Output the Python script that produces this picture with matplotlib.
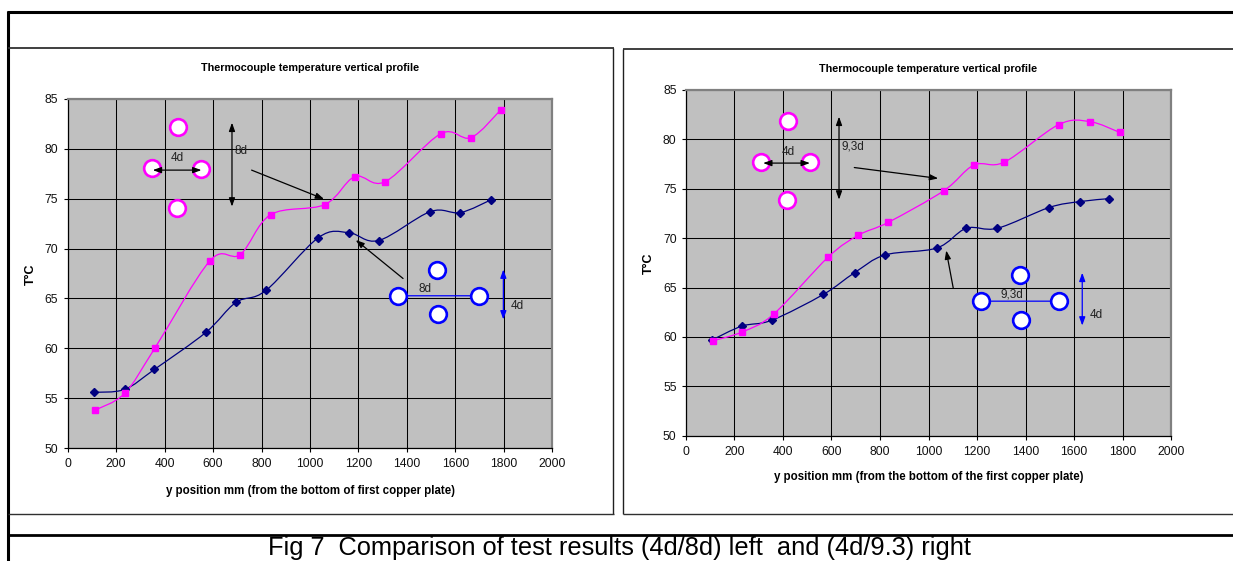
import numpy as np
import matplotlib
matplotlib.use("Agg")
import matplotlib.pyplot as plt
from matplotlib.path import Path
from matplotlib.patches import PathPatch
from matplotlib.lines import Line2D

plt.rcParams['font.family'] = ['Liberation Sans', 'DejaVu Sans']

# ---------------- data ----------------
x_ticks = [0, 200, 400, 600, 800, 1000, 1200, 1400, 1600, 1800, 2000]
y_ticks = [50, 55, 60, 65, 70, 75, 80, 85]

left_x_mag = [111, 235, 359, 588, 712, 838, 1061, 1185, 1311, 1540, 1664, 1788]
left_y_mag = [53.8, 55.5, 60.0, 68.8, 69.4, 73.4, 74.4, 77.2, 76.7, 81.5, 81.1, 83.9]
left_x_blue = [108, 235, 358, 570, 694, 818, 1035, 1159, 1283, 1497, 1621, 1749]
left_y_blue = [55.6, 55.9, 57.9, 61.6, 64.6, 65.8, 71.1, 71.6, 70.8, 73.7, 73.6, 74.9]

right_x_mag = [110, 231, 361, 587, 711, 834, 1063, 1187, 1313, 1537, 1665, 1789]
right_y_mag = [59.6, 60.5, 62.3, 68.1, 70.3, 71.6, 74.8, 77.4, 77.7, 81.5, 81.8, 80.7]
right_x_blue = [108, 231, 355, 566, 695, 821, 1034, 1156, 1284, 1497, 1623, 1744]
right_y_blue = [59.7, 61.1, 61.7, 64.3, 66.5, 68.3, 69.0, 71.0, 71.0, 73.1, 73.7, 74.0]

title_text = "Thermocouple temperature vertical profile"
ylabel_text = "T°C"
left_xlabel = "y position mm (from the bottom of first copper plate)"
right_xlabel = "y position mm (from the bottom of the first copper plate)"
caption = "Fig 7  Comparison of test results (4d/8d) left  and (4d/9.3) right"
left_gap_labels = ["4d", "8d"]
right_gap_labels = ["4d", "9,3d"]

MAG = '#FF00FF'
NAVY = '#000080'
BLUE = '#0000FF'

W, H = 1233, 561
fig = plt.figure(figsize=(W / 100, H / 100), dpi=100)
fig.patch.set_facecolor('white')


def fx(x):
    return x / W


def fy(y):
    return 1 - y / H


def hline(y, x0, x1, lw=1.0, color='black'):
    fig.add_artist(Line2D([fx(x0), fx(x1)], [fy(y), fy(y)], lw=lw, color=color,
                          transform=fig.transFigure, solid_capstyle='butt'))


def vline(x, y0, y1, lw=1.0, color='black'):
    fig.add_artist(Line2D([fx(x), fx(x)], [fy(y0), fy(y1)], lw=lw, color=color,
                          transform=fig.transFigure, solid_capstyle='butt'))


# frame lines
hline(12, 6.5, W, lw=2.2)
vline(8, 10.5, H, lw=2.2)
hline(48, 8, 613.5, lw=1.3, color='#303030')
vline(613, 48, 514, lw=1.0, color='#202020')
hline(514, 8, 613.5, lw=1.0, color='#303030')
hline(49, 623, W, lw=1.3, color='#303030')
vline(623, 49, 514, lw=1.0, color='#202020')
hline(514, 623, W, lw=1.0, color='#303030')
hline(535, 8, W, lw=2.0)

fig.text(fx(620), fy(554.5), caption, ha='center', va='baseline', fontsize=18.3,
         color='black')


def smooth_path(x, y):
    pts = np.column_stack([x, y]).astype(float)
    n = len(pts)
    verts = [pts[0]]
    codes = [Path.MOVETO]
    for i in range(n - 1):
        p0 = pts[i - 1] if i > 0 else pts[i]
        p1 = pts[i]
        p2 = pts[i + 1]
        p3 = pts[i + 2] if i + 2 < n else pts[i + 1]
        c1 = p1 + (p2 - p0) / 6.0
        c2 = p2 - (p3 - p1) / 6.0
        verts += [c1, c2, p2]
        codes += [Path.CURVE4] * 3
    return Path(verts, codes)


def make_axes(rect):
    ax = fig.add_axes(rect)
    ax.set_facecolor('#C0C0C0')
    ax.set_xlim(0, 2000)
    ax.set_ylim(50, 85)
    ax.set_xticks(x_ticks)
    ax.set_yticks(y_ticks)
    ax.grid(True, color='black', lw=0.75)
    ax.set_axisbelow(True)
    for s in ['top', 'right']:
        ax.spines[s].set_color('#808080')
        ax.spines[s].set_linewidth(1.6)
    for s in ['left', 'bottom']:
        ax.spines[s].set_color('black')
        ax.spines[s].set_linewidth(0.9)
    ax.tick_params(axis='both', direction='out', length=2.6, width=0.8,
                   labelsize=8.7, color='black', labelcolor='#111111')
    ax.tick_params(axis='x', pad=4.5)
    ax.tick_params(axis='y', pad=4.2)
    return ax


def draw_series(ax, x, y, color, marker, ms):
    ax.add_patch(PathPatch(smooth_path(x, y), fill=False, edgecolor=color,
                           lw=0.9, zorder=3))
    ax.plot(x, y, linestyle='none', marker=marker, color=color, ms=ms,
            mec=color, zorder=4)


def circles(ax, xs, ys, color):
    ax.plot(xs, ys, linestyle='none', marker='o', ms=12, mfc='white',
            mec=color, mew=1.9, zorder=5)


def darrow(ax, p0, p1, color, zorder=6):
    ax.annotate('', xy=p1, xytext=p0,
                arrowprops=dict(arrowstyle='<|-|>,head_length=0.5,head_width=0.18',
                                color=color, lw=0.9, shrinkA=0, shrinkB=0),
                zorder=zorder)


def sarrow(ax, p0, p1, color='black'):
    ax.annotate('', xy=p1, xytext=p0,
                arrowprops=dict(arrowstyle='-|>,head_length=0.5,head_width=0.18',
                                color=color, lw=0.9, shrinkA=0, shrinkB=0),
                zorder=6)


# ---------------- left chart ----------------
axL = make_axes([fx(67.7), fy(448.3), (552.3 - 67.7) / W, (448.3 - 98.7) / H])
draw_series(axL, left_x_blue, left_y_blue, NAVY, 'D', 3.6)
draw_series(axL, left_x_mag, left_y_mag, MAG, 's', 4.8)

circles(axL, [455, 346, 552, 451], [82.2, 78.05, 78.0, 74.1], MAG)
darrow(axL, (351, 77.85), (552, 77.85), 'black')
axL.text(452, 79.1, left_gap_labels[0], ha='center', va='center', fontsize=8.5, color='#222222', zorder=7)
darrow(axL, (678, 82.6), (678, 74.2), 'black')
axL.text(688, 79.8, left_gap_labels[1], ha='left', va='center', fontsize=8.5, color='#222222', zorder=7)
sarrow(axL, (759, 77.85), (1058, 74.95))

circles(axL, [1525, 1362, 1696, 1528], [67.85, 65.27, 65.27, 63.45], BLUE)
darrow(axL, (1356, 65.27), (1710, 65.27), BLUE, zorder=4.5)
axL.text(1474, 65.9, left_gap_labels[1], ha='center', va='center', fontsize=8.5, color='#222222', zorder=7)
darrow(axL, (1798, 67.9), (1798, 62.9), BLUE)
axL.text(1830, 64.2, left_gap_labels[0], ha='left', va='center', fontsize=8.5, color='#222222', zorder=7)
sarrow(axL, (1384, 67.0), (1189, 70.85))

# ---------------- right chart ----------------
axR = make_axes([fx(686), fy(435.7), (1171 - 686) / W, (435.7 - 90) / H])
draw_series(axR, right_x_blue, right_y_blue, NAVY, 'D', 3.6)
draw_series(axR, right_x_mag, right_y_mag, MAG, 's', 4.8)

circles(axR, [419, 311, 513, 415], [81.9, 77.68, 77.68, 73.84], MAG)
darrow(axR, (318, 77.6), (511, 77.6), 'black')
axR.text(423, 78.7, right_gap_labels[0], ha='center', va='center', fontsize=8.5, color='#222222', zorder=7)
darrow(axR, (631, 82.3), (631, 73.9), 'black')
axR.text(640, 79.3, right_gap_labels[1], ha='left', va='center', fontsize=8.5, color='#222222', zorder=7)
sarrow(axR, (694, 77.15), (1040, 76.05))

circles(axR, [1377, 1215, 1539, 1381], [66.25, 63.62, 63.62, 61.74], BLUE)
darrow(axR, (1208, 63.62), (1555, 63.62), BLUE, zorder=4.5)
axR.text(1344, 64.25, right_gap_labels[1], ha='center', va='center', fontsize=8.5, color='#222222', zorder=7)
darrow(axR, (1634, 66.5), (1634, 61.15), BLUE)
axR.text(1664, 62.25, right_gap_labels[0], ha='left', va='center', fontsize=8.5, color='#222222', zorder=7)
sarrow(axR, (1102, 64.95), (1073, 68.75))

# ---------------- texts ----------------
fig.text(fx(310), fy(68), title_text, ha='center', va='center', fontsize=7.8,
         fontweight='bold')
fig.text(fx(928.5), fy(69), title_text, ha='center', va='center', fontsize=7.8,
         fontweight='bold')
fig.text(fx(310), fy(491), left_xlabel, ha='center', va='center', fontsize=8.3,
         fontweight='bold')
fig.text(fx(928.5), fy(477), right_xlabel, ha='center', va='center', fontsize=8.3,
         fontweight='bold')
fig.text(fx(31), fy(274), ylabel_text, ha='center', va='center', fontsize=9,
         fontweight='bold', rotation=90)
fig.text(fx(649), fy(263), ylabel_text, ha='center', va='center', fontsize=9,
         fontweight='bold', rotation=90)

fig.savefig('out.png', dpi=100, facecolor='white')
